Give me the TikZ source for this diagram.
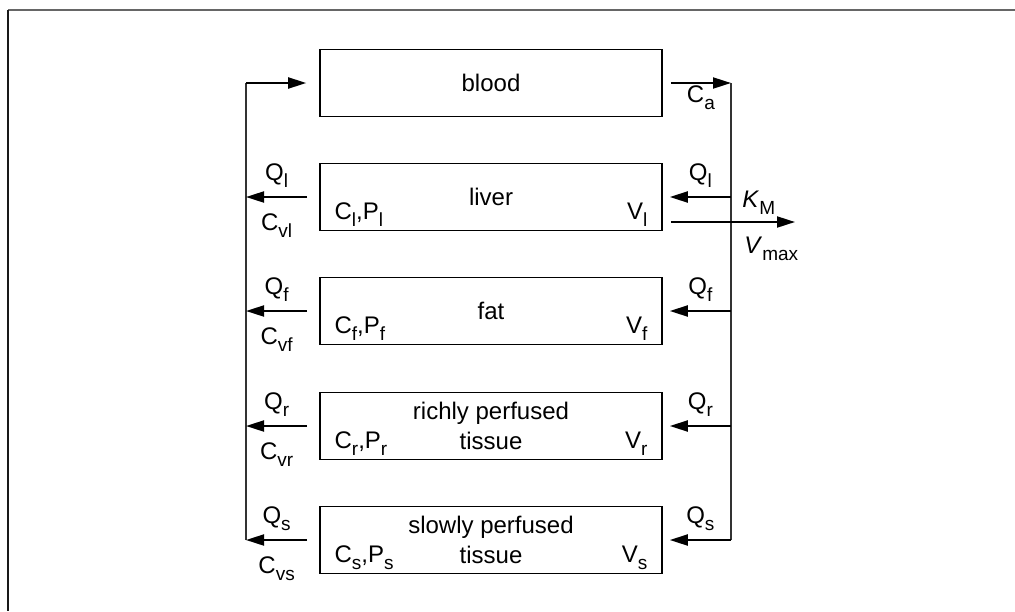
\documentclass[tikz,border=0pt]{standalone}
\usepackage{fontspec}
\setmainfont{Liberation Sans}
\usetikzlibrary{arrows.meta,positioning}
\newcommand{\lo}[1]{\raisebox{-3.5pt}{\fontsize{9.5}{10}\selectfont #1}}
\tikzset{
  organ/.style={draw, line width=0.8pt, minimum width=171pt, minimum height=33.5pt,
    inner sep=0pt, align=center, font=\fontsize{12}{15}\selectfont},
  flow/.style={-{Triangle[length=9pt,width=5.5pt]}, line width=1pt},
  bus/.style={line width=0.6pt, black!80},
  lbl/.style={inner sep=0pt, font=\fontsize{12}{14}\selectfont},
}

\begin{document}
\begin{tikzpicture}[x=0.5pt,y=-0.5pt]
\useasboundingbox (0,0) rectangle (1015,611);
\draw[black!60, line width=1pt] (8,10) -- (1015,10);
\draw[black!90, line width=0.8pt] (8,10) -- (8,611);

\node[organ] (blood) at (491,83) {blood};
\node[organ] (liver) at (491,197) {liver};
\node[organ] (fat) at (491,311) {fat};
\node[organ] (rich) at (491,426) {richly perfused\\tissue};
\node[organ] (slow) at (491,540) {slowly perfused\\tissue};

\node[lbl, anchor=base west] (cpl) at ([xshift=7.5pt,yshift=-11pt]liver.west) {C\lo{l},P\lo{l}};
\node[lbl, anchor=base east] (vl) at ([xshift=-7.5pt,yshift=-11pt]liver.east) {V\lo{l}};
\node[lbl, anchor=base west] (cpf) at ([xshift=7.5pt,yshift=-11pt]fat.west) {C\lo{f},P\lo{f}};
\node[lbl, anchor=base east] (vf) at ([xshift=-7.5pt,yshift=-11pt]fat.east) {V\lo{f}};
\node[lbl, anchor=base west] (cpr) at ([xshift=7.5pt,yshift=-11pt]rich.west) {C\lo{r},P\lo{r}};
\node[lbl, anchor=base east] (vr) at ([xshift=-7.5pt,yshift=-11pt]rich.east) {V\lo{r}};
\node[lbl, anchor=base west] (cps) at ([xshift=7.5pt,yshift=-11pt]slow.west) {C\lo{s},P\lo{s}};
\node[lbl, anchor=base east] (vs) at ([xshift=-7.5pt,yshift=-11pt]slow.east) {V\lo{s}};

\coordinate (ltop) at (246,83);
\coordinate (lbot) at (246,540);
\coordinate (rtop) at (731,83);
\coordinate (rbot) at (731,540);
\coordinate (met) at (795,222);

\draw[bus] (lbot) -- (ltop);
\draw[flow] (ltop) -- ([xshift=-6.5pt]blood.west);
\draw[flow] ([xshift=4pt]blood.east) -- (rtop)
  node[lbl, midway, anchor=base, yshift=-9.5pt] (ca) {C\lo{a}};
\draw[bus] (rtop) -- (rbot);

\draw[flow] ([xshift=-6pt]liver.west) -- (liver.west -| ltop)
  node[lbl, midway, anchor=base, yshift=8.5pt] (qll) {Q\lo{l}}
  node[lbl, midway, anchor=base, yshift=-16.5pt] (cvl) {C\lo{vl}};
\draw[flow] (liver.east -| rtop) -- ([xshift=3.5pt]liver.east)
  node[lbl, midway, anchor=base, yshift=8.5pt] (qlr) {Q\lo{l}};
\draw[flow] ([xshift=4pt]liver.east |- met) -- (met);
\node[lbl, anchor=base west] (km) at ([xshift=5.5pt,yshift=7.5pt]met -| rtop) {\textit{K}\lo{M}};
\node[lbl, anchor=base west] (vmax) at ([xshift=6.5pt,yshift=-15.5pt]met -| rtop) {\textit{V}\lo{max}};

\draw[flow] ([xshift=-6pt]fat.west) -- (fat.west -| ltop)
  node[lbl, midway, anchor=base, yshift=8.5pt] (qfl) {Q\lo{f}}
  node[lbl, midway, anchor=base, yshift=-16.5pt] (cvf) {C\lo{vf}};
\draw[flow] (fat.east -| rtop) -- ([xshift=3.5pt]fat.east)
  node[lbl, midway, anchor=base, yshift=8.5pt] (qfr) {Q\lo{f}};

\draw[flow] ([xshift=-6pt]rich.west) -- (rich.west -| ltop)
  node[lbl, midway, anchor=base, yshift=8.5pt] (qrl) {Q\lo{r}}
  node[lbl, midway, anchor=base, yshift=-16.5pt] (cvr) {C\lo{vr}};
\draw[flow] (rich.east -| rtop) -- ([xshift=3.5pt]rich.east)
  node[lbl, midway, anchor=base, yshift=8.5pt] (qrr) {Q\lo{r}};

\draw[flow] ([xshift=-6pt]slow.west) -- (slow.west -| ltop)
  node[lbl, midway, anchor=base, yshift=8.5pt] (qsl) {Q\lo{s}}
  node[lbl, midway, anchor=base, yshift=-16.5pt] (cvs) {C\lo{vs}};
\draw[flow] (slow.east -| rtop) -- ([xshift=3.5pt]slow.east)
  node[lbl, midway, anchor=base, yshift=8.5pt] (qsr) {Q\lo{s}};
\end{tikzpicture}
\end{document}
